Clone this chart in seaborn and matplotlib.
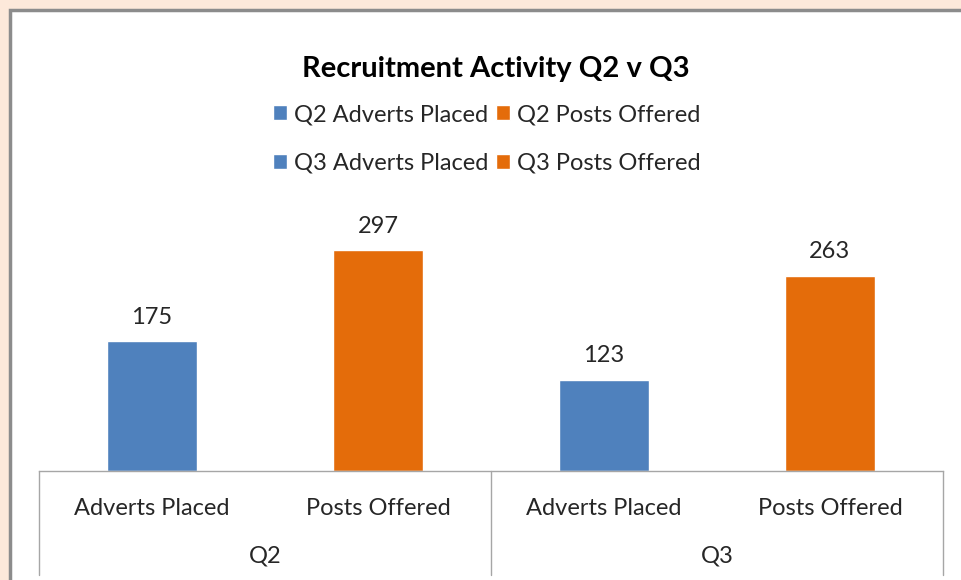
import matplotlib
matplotlib.use('Agg')
import matplotlib.pyplot as plt
import matplotlib.transforms as mtransforms
from matplotlib.patches import Rectangle
import pandas as pd
import seaborn as sns

# --- data ---
series = ['Q2 Adverts Placed', 'Q2 Posts Offered', 'Q3 Adverts Placed', 'Q3 Posts Offered']
values = [175, 297, 123, 263]
sub_labels = ['Adverts Placed', 'Posts Offered', 'Adverts Placed', 'Posts Offered']
groups = ['Q2', 'Q3']
colors = ['#4F81BD', '#E46C0A', '#4F81BD', '#E46C0A']

df = pd.DataFrame({'series': series, 'value': values})

sns.set_style('white')
plt.rcParams['font.family'] = ['Lato', 'DejaVu Sans']

W, H = 962, 580
FS = 17
fig = plt.figure(figsize=(W / 100, H / 100), dpi=100, facecolor='#FDE9DA')

# white chart area with grey frame (cropped at right and bottom)
fig.patches.append(Rectangle((10 / W, -0.1), 1.1, (H - 10) / H + 0.1,
                             transform=fig.transFigure, facecolor='white',
                             edgecolor='#8C8C8C', linewidth=2.5, zorder=-5))

ax = fig.add_axes([39 / W, (H - 471) / H, (943 - 39) / W, (471 - 211) / H])
ax.set_zorder(2)
ax.set_facecolor('none')

sns.barplot(data=df, x='series', y='value', hue='series', palette=colors,
            width=0.394, saturation=1, legend=True, ax=ax)

ax.set_xlim(-0.5, 3.5)
ax.set_ylim(0, 350)
ax.set_xlabel('')
ax.set_ylabel('')
ax.set_yticks([])
ax.set_xticks(range(4))
ax.set_xticklabels(sub_labels, fontsize=FS, color='#262626')
ax.tick_params(axis='x', length=0, pad=19.5)
for s in ['top', 'left', 'right']:
    ax.spines[s].set_visible(False)
ax.spines['bottom'].set_color('#A6A6A6')
ax.spines['bottom'].set_linewidth(1)

for c in ax.containers:
    ax.bar_label(c, padding=9.5, fontsize=FS, color='#262626')

# two-level category axis: separators and group labels
trans = mtransforms.blended_transform_factory(ax.transData, ax.transAxes)
drop = (575 - 471) / 260
for xpos in [-0.5, 1.5, 3.5]:
    ax.plot([xpos, xpos], [0, -drop], transform=trans, color='#A6A6A6',
            linewidth=1, clip_on=False)
for i, g in enumerate(groups):
    ax.text(2 * i + 0.5, -(556 - 471) / 260, g, transform=trans, ha='center',
            va='center', fontsize=FS, color='#262626')

# legend in two rows
handles, labels = ax.get_legend_handles_labels()
ax.get_legend().remove()
order = [0, 2, 1, 3]
fig.legend([handles[i] for i in order], [labels[i] for i in order], ncol=2,
           loc='center', bbox_to_anchor=(487 / W, 1 - 139 / H), frameon=False,
           fontsize=FS, handlelength=0.6, handleheight=0.6,
           handletextpad=0.3, columnspacing=0.3, labelspacing=1.17,
           labelcolor='#262626')

fig.text(496 / W, 1 - 69 / H, 'Recruitment Activity Q2 v Q3', ha='center',
         va='center', fontsize=21, fontweight='bold', color='black')

fig.savefig('out.png', dpi=100, facecolor=fig.get_facecolor())
